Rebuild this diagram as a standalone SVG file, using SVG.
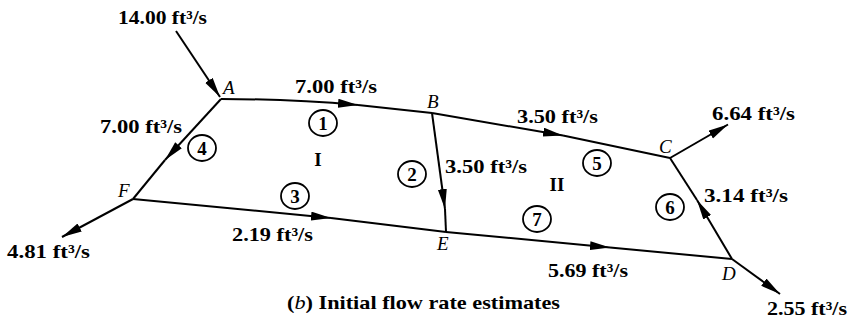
<svg xmlns="http://www.w3.org/2000/svg" width="853" height="327" viewBox="0 0 853 327">
<defs>
<marker id="ah" markerUnits="userSpaceOnUse" markerWidth="21" markerHeight="10" refX="20" refY="4.5" orient="auto">
<path d="M0,0 L20,4.5 L0,9 Z" fill="#000"/>
</marker>
<style>
.e{fill:none;stroke:#000;stroke-width:2}
.a{marker-end:url(#ah)}
.q{font-family:"Liberation Serif","Times New Roman",serif;font-weight:bold;font-size:19px;fill:#000}
.n{font-family:"Liberation Serif","Times New Roman",serif;font-style:italic;font-size:19px;fill:#000}
.c{fill:none;stroke:#000;stroke-width:1.8}
.ct{font-family:"Liberation Serif","Times New Roman",serif;font-weight:bold;font-size:19px;text-anchor:middle;fill:#000}
.r{font-family:"Liberation Serif","Times New Roman",serif;font-weight:bold;font-size:19px;text-anchor:middle;fill:#000}
</style>
</defs>
<rect width="853" height="327" fill="#fff"/>
<g id="connectors">
<path class="e a" d="M221,99 Q290,99 358,105"/>
<path class="e" d="M358,105 L432,113"/>
<path class="e a" d="M432,113 L563,135.5"/>
<path class="e" d="M563,135.5 L670,158"/>
<path class="e a" d="M432,113 L445,209"/>
<path class="e" d="M445,209 L446,232"/>
<path class="e a" d="M732,259 L697,200"/>
<path class="e" d="M697,200 L670,158"/>
<path class="e a" d="M221,99 L165,160"/>
<path class="e" d="M165,160 L133,199"/>
<path class="e a" d="M133,199 L331,218"/>
<path class="e" d="M331,218 L446,232"/>
<path class="e a" d="M446,232 L610,247.5"/>
<path class="e" d="M610,247.5 L732,259"/>
<path class="e a" d="M176,31 L220,97"/>
<path class="e a" d="M670,158 L728,124.5"/>
<path class="e a" d="M133,199 L62,237"/>
<path class="e a" d="M732,259 L780,294"/>
</g>
<g id="flow-labels">
<text class="q" x="118" y="24" textLength="89" lengthAdjust="spacingAndGlyphs">14.00 ft³/s</text>
<text class="q" x="295" y="93" textLength="82" lengthAdjust="spacingAndGlyphs">7.00 ft³/s</text>
<text class="q" x="100" y="133" textLength="82" lengthAdjust="spacingAndGlyphs">7.00 ft³/s</text>
<text class="q" x="517" y="123" textLength="81" lengthAdjust="spacingAndGlyphs">3.50 ft³/s</text>
<text class="q" x="445" y="173" textLength="82" lengthAdjust="spacingAndGlyphs">3.50 ft³/s</text>
<text class="q" x="712" y="120" textLength="83" lengthAdjust="spacingAndGlyphs">6.64 ft³/s</text>
<text class="q" x="704" y="202" textLength="84" lengthAdjust="spacingAndGlyphs">3.14 ft³/s</text>
<text class="q" x="7" y="258" textLength="83" lengthAdjust="spacingAndGlyphs">4.81 ft³/s</text>
<text class="q" x="232" y="241" textLength="81" lengthAdjust="spacingAndGlyphs">2.19 ft³/s</text>
<text class="q" x="548" y="277" textLength="80" lengthAdjust="spacingAndGlyphs">5.69 ft³/s</text>
<text class="q" x="767" y="315" textLength="80" lengthAdjust="spacingAndGlyphs">2.55 ft³/s</text>
</g>
<g id="node-A"><text class="n" x="223" y="94">A</text></g>
<g id="node-B"><text class="n" x="427" y="108">B</text></g>
<g id="node-C"><text class="n" x="659" y="153">C</text></g>
<g id="node-D"><text class="n" x="722" y="280">D</text></g>
<g id="node-E"><text class="n" x="437" y="250">E</text></g>
<g id="node-F"><text class="n" x="118" y="197">F</text></g>
<g id="pipe-1"><ellipse class="c" cx="323" cy="123" rx="14" ry="13"/><text class="ct" x="323" y="129.5">1</text></g>
<g id="pipe-2"><ellipse class="c" cx="412" cy="174" rx="14" ry="13"/><text class="ct" x="412" y="180.5">2</text></g>
<g id="pipe-3"><ellipse class="c" cx="295" cy="196" rx="14" ry="13"/><text class="ct" x="295" y="202.5">3</text></g>
<g id="pipe-4"><ellipse class="c" cx="202" cy="148" rx="14" ry="13"/><text class="ct" x="202" y="154.5">4</text></g>
<g id="pipe-5"><ellipse class="c" cx="597" cy="163" rx="14" ry="13"/><text class="ct" x="597" y="169.5">5</text></g>
<g id="pipe-6"><ellipse class="c" cx="670" cy="207" rx="14" ry="13"/><text class="ct" x="670" y="213.5">6</text></g>
<g id="pipe-7"><ellipse class="c" cx="537" cy="219" rx="14" ry="13"/><text class="ct" x="537" y="225.5">7</text></g>
<g id="loops">
<text class="r" x="318" y="166">I</text>
<text class="r" x="557" y="191">II</text>
</g>
<g id="caption">
<text class="q" x="287" y="309" textLength="273" lengthAdjust="spacingAndGlyphs">(<tspan font-style="italic" font-weight="normal">b</tspan>)  Initial flow rate estimates</text>
</g>
</svg>
